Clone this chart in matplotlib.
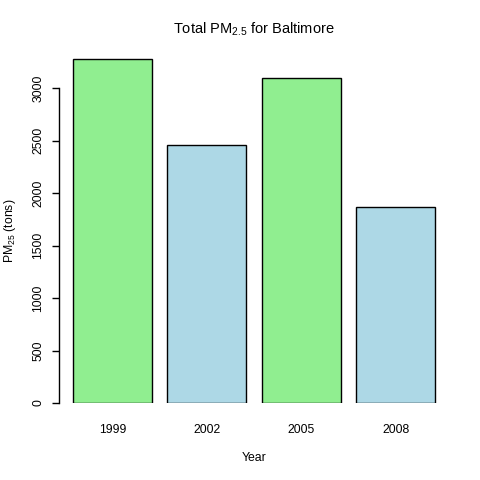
import matplotlib
matplotlib.use("Agg")
from matplotlib import pyplot as plt

plt.rcParams['font.family'] = ['Liberation Sans', 'DejaVu Sans']
plt.rcParams['mathtext.default'] = 'regular'

# totals of PM2.5 emissions in Baltimore per year
years = ["1999", "2002", "2005", "2008"]
emissions = [3274.2, 2453.9, 3091.4, 1862.3]
bar_colors = ["lightgreen", "lightblue", "lightgreen", "lightblue"]
y_ticks = [0, 500, 1000, 1500, 2000, 2500, 3000]

W = 480.0
fig = plt.figure(figsize=(4.8, 4.8), dpi=100)
# plot region in pixels: x 58.5..449.5, y 56.5..403 (from top)
ax = fig.add_axes([58.5 / W, (W - 403) / W, (449.5 - 58.5) / W, (403 - 56.5) / W])

positions = [0.7 + 1.2 * i for i in range(len(years))]
ax.bar(positions, emissions, width=1.0, color=bar_colors, edgecolor="black", linewidth=1.0)

ax.set_xlim(0.016, 4.984)
ax.set_ylim(0, 3300)

for side in ["top", "right", "bottom"]:
    ax.spines[side].set_visible(False)
ax.spines['left'].set_bounds(0, 3000)
ax.spines['left'].set_linewidth(1.0)

ax.set_yticks(y_ticks)
ax.set_yticklabels([str(t) for t in y_ticks], rotation=90, va="center", fontsize=8.8)
ax.tick_params(axis='y', length=5, width=1.0, pad=5)

ax.set_xticks(positions)
ax.set_xticklabels(years, fontsize=8.8)
ax.tick_params(axis='x', length=0, pad=15)

fig.text(254 / W, 1 - 29 / W, "Total PM$_{2.5}$ for Baltimore", ha="center", va="center", fontsize=10.5)
fig.text(254 / W, 1 - 458 / W, "Year", ha="center", va="center", fontsize=8.8)
fig.text(10 / W, 1 - 231 / W, "PM$_{25}$ (tons)", ha="center", va="center", rotation=90, fontsize=8.8)

fig.savefig("out.png", dpi=100)
